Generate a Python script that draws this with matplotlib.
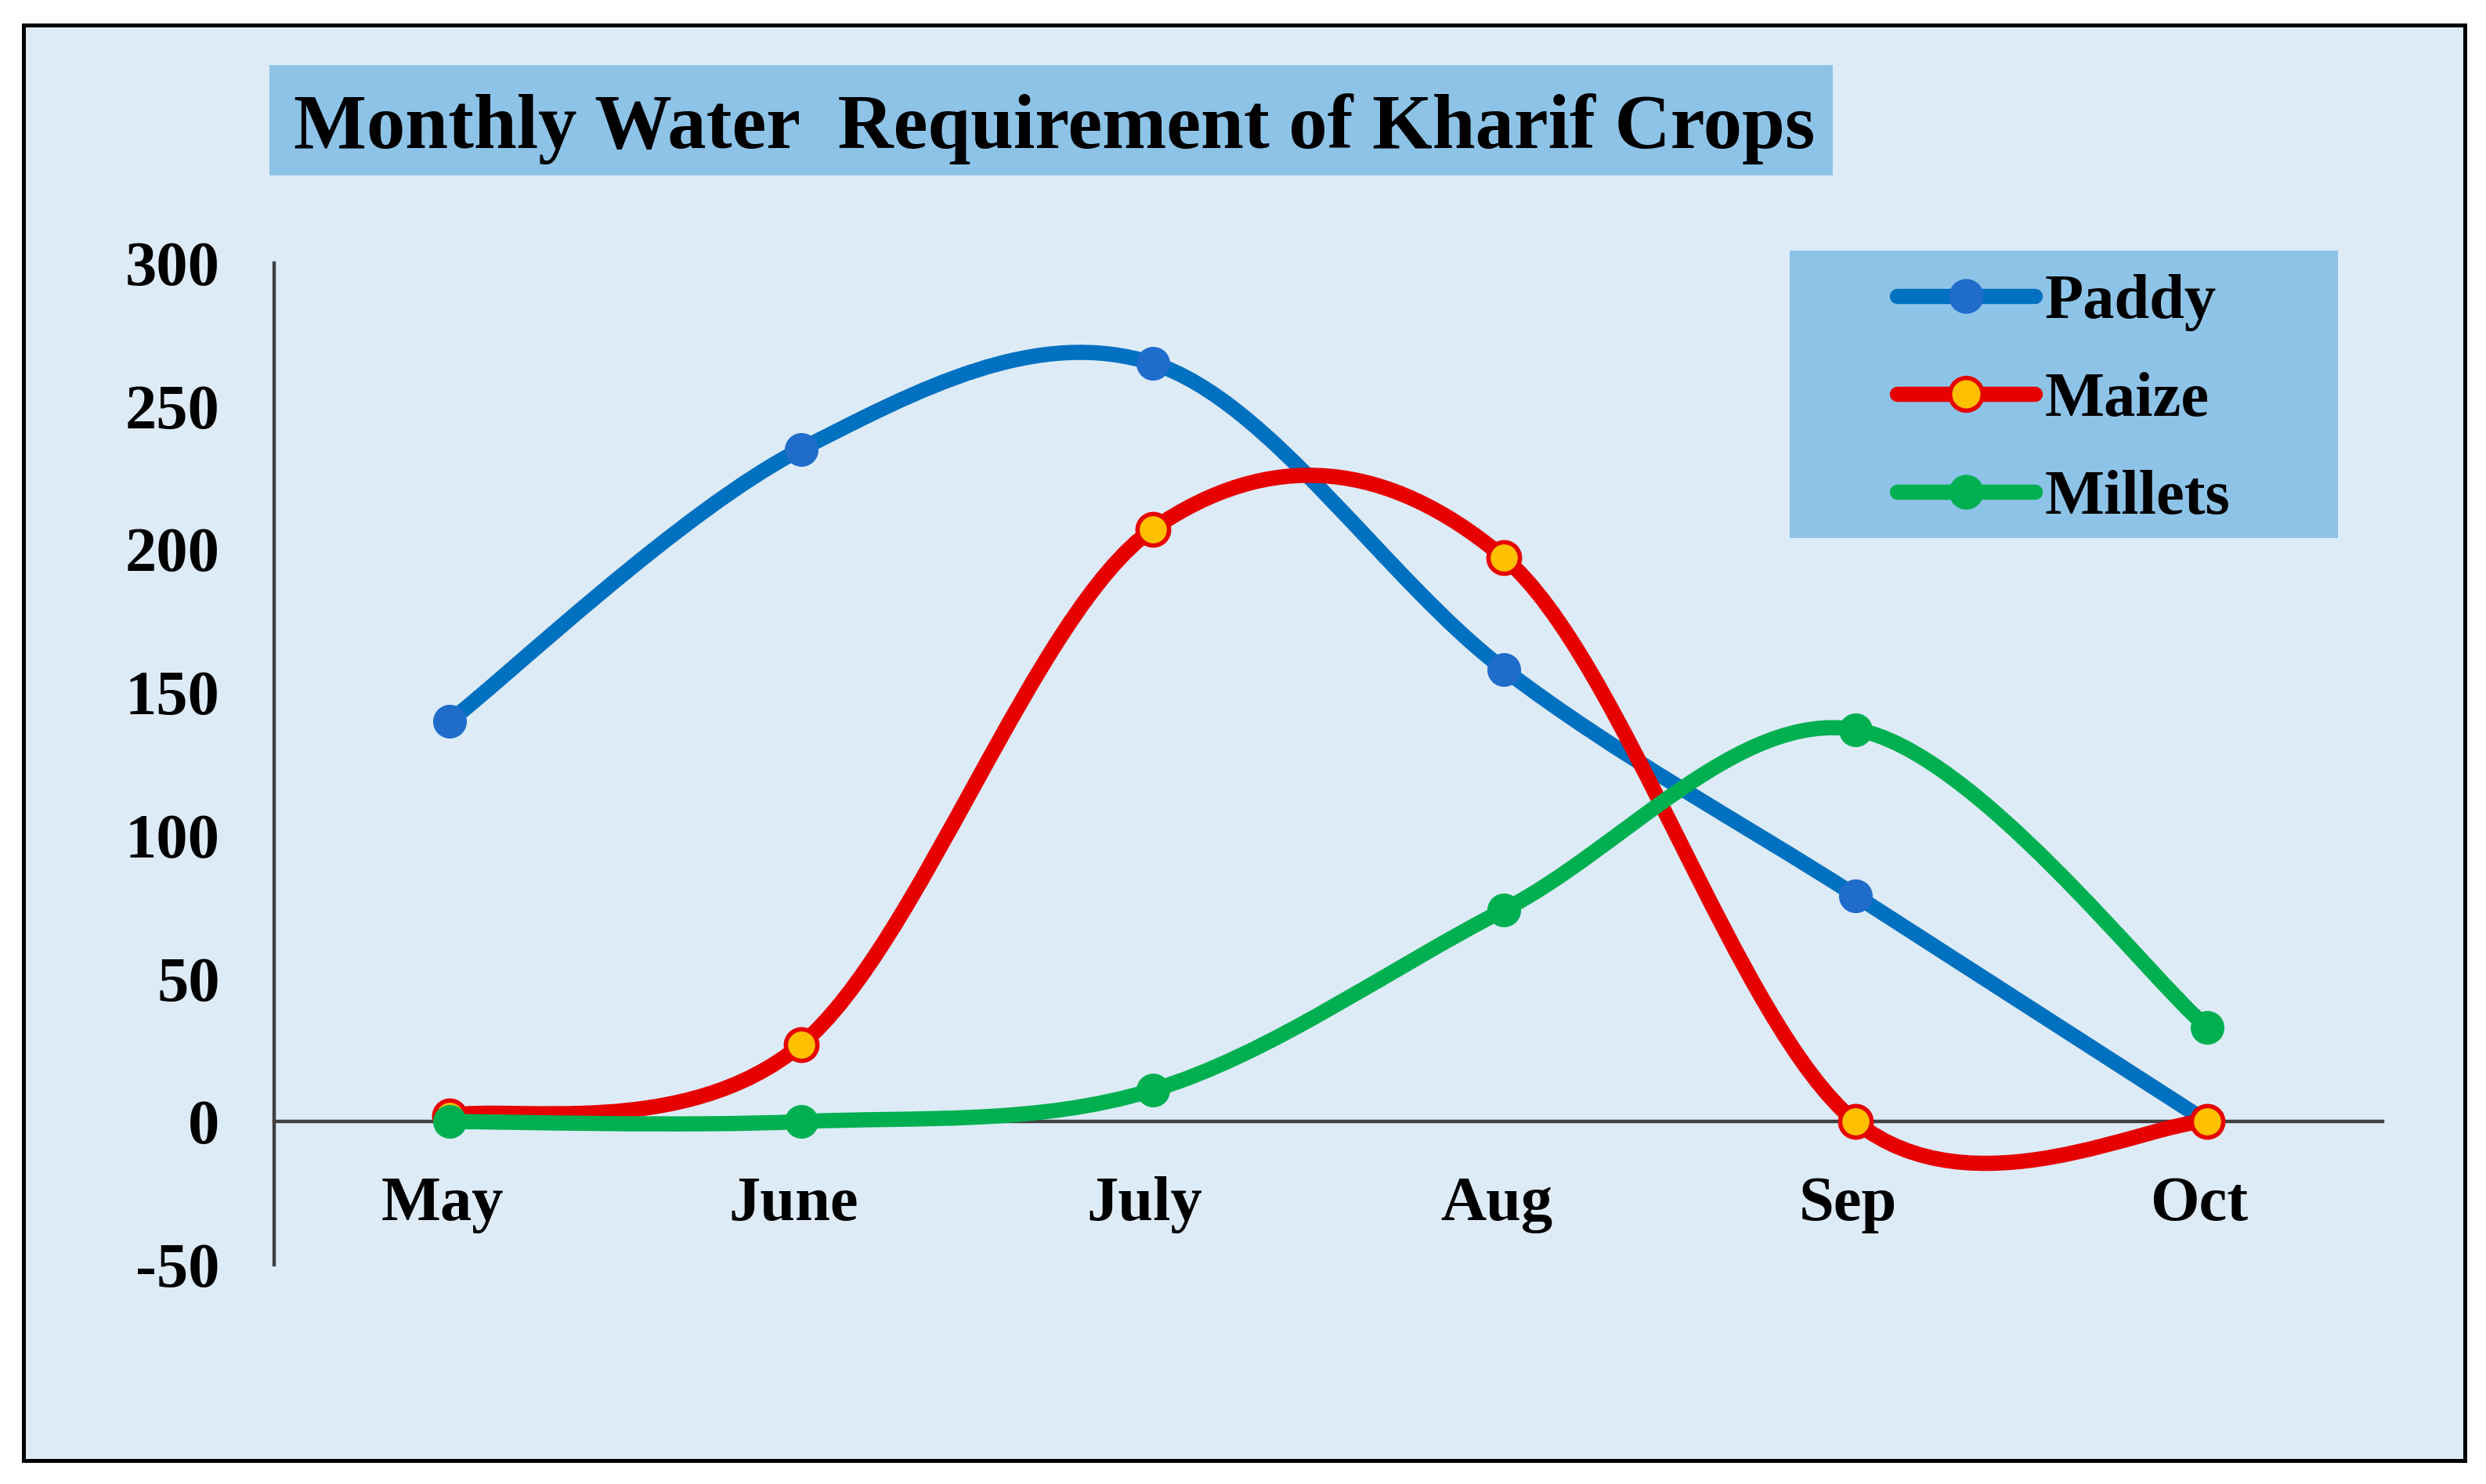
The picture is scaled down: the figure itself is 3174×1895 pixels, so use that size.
import matplotlib
matplotlib.use('Agg')
import matplotlib.pyplot as plt
from matplotlib.path import Path
from matplotlib.patches import PathPatch, Rectangle
from matplotlib.lines import Line2D
from matplotlib.transforms import ScaledTranslation

plt.rcParams['axes.unicode_minus'] = False

months = ['May', 'June', 'July', 'Aug', 'Sep', 'Oct']
paddy = [140, 235, 265, 158, 79, 0]
maize = [2, 27, 207, 197, 0, 0]
millets = [0, 0, 11, 74, 137, 33]

title = 'Monthly Water  Requirement of Kharif Crops'
yticks = [-50, 0, 50, 100, 150, 200, 250, 300]

bg = '#DDEBF7'
boxcol = '#8EC3E8'
font = 'Liberation Serif'


def smooth(x, y):
    # excel style smoothed line: cubic bezier through every point
    n = len(x)
    verts = [(x[0], y[0])]
    codes = [Path.MOVETO]
    for i in range(n - 1):
        a = max(i - 1, 0)
        b = min(i + 2, n - 1)
        c1 = (x[i] + (x[i + 1] - x[a]) / 6, y[i] + (y[i + 1] - y[a]) / 6)
        c2 = (x[i + 1] - (x[b] - x[i]) / 6, y[i + 1] - (y[b] - y[i]) / 6)
        verts += [c1, c2, (x[i + 1], y[i + 1])]
        codes += [Path.CURVE4] * 3
    return Path(verts, codes)


fig = plt.figure(figsize=(31.74, 18.95), dpi=100)
fig.patch.set_facecolor('white')

# outer frame
fig.patches.append(Rectangle((0.00945, 0.01583), 0.98204, 0.9673, transform=fig.transFigure,
                             facecolor=bg, edgecolor='black', linewidth=3.6, zorder=-3))
# title box
fig.patches.append(Rectangle((0.1084, 0.8818), 0.6289, 0.0744, transform=fig.transFigure,
                             facecolor=boxcol, edgecolor='none', zorder=-2))
fig.text(0.1181, 0.9003, title, fontsize=71, fontweight='bold', family=font,
         ha='left', va='baseline')
# legend box
fig.patches.append(Rectangle((0.7199, 0.6375), 0.2205, 0.1937, transform=fig.transFigure,
                             facecolor=boxcol, edgecolor='none', zorder=-2))

ax = fig.add_axes([0.1103, 0.1478, 0.8481, 0.6749])
ax.set_facecolor('none')

x = list(range(len(months)))
series = [
    ('Paddy', paddy, '#0070C0', '#1F6CCB', '#1F6CCB', 2),
    ('Maize', maize, '#E60000', '#FFC000', '#E60000', 4),
    ('Millets', millets, '#00B050', '#00B050', '#00B050', 2),
]
handles = []
for k, (name, vals, col, mface, medge, mew) in enumerate(series):
    z = 3 + k
    ax.add_patch(PathPatch(smooth(x, vals), facecolor='none', edgecolor=col,
                           linewidth=14, capstyle='round', joinstyle='round', zorder=z))
    ax.plot(x, vals, linestyle='none', marker='o', markersize=29, markerfacecolor=mface,
            markeredgecolor=medge, markeredgewidth=mew, zorder=z + 0.5)
    handles.append(Line2D([], [], color=col, linewidth=14, solid_capstyle='round', marker='o',
                          markersize=30, markerfacecolor=mface, markeredgecolor=medge,
                          markeredgewidth=mew))

ax.set_xlim(-0.5, len(months) - 0.5)
ax.set_ylim(-50, 300)
ax.set_xticks(x)
ax.set_xticklabels(months)
ax.set_yticks(yticks)

ax.spines['top'].set_visible(False)
ax.spines['right'].set_visible(False)
ax.spines['bottom'].set_position(('data', 0))
for s in ['left', 'bottom']:
    ax.spines[s].set_color('#404040')
    ax.spines[s].set_linewidth(3.2)
    ax.spines[s].set_zorder(2)

ax.tick_params(axis='both', length=0)
ax.tick_params(axis='y', pad=50)
ax.tick_params(axis='x', pad=50)
shift = ScaledTranslation(-0.1, 0, fig.dpi_scale_trans)
for lab in ax.get_xticklabels():
    lab.set_transform(lab.get_transform() + shift)
for lab in ax.get_xticklabels() + ax.get_yticklabels():
    lab.set_fontfamily(font)
    lab.set_fontweight('bold')
    lab.set_fontsize(58)

fig.legend(handles=handles, labels=[s[0] for s in series], loc='center',
           bbox_to_anchor=(0.8302, 0.7300), frameon=False,
           prop={'family': font, 'weight': 'bold', 'size': 58},
           handlelength=2.18, handletextpad=0.16, labelspacing=0.64, borderpad=0)

fig.savefig('out.png', dpi=100, facecolor=fig.get_facecolor())
